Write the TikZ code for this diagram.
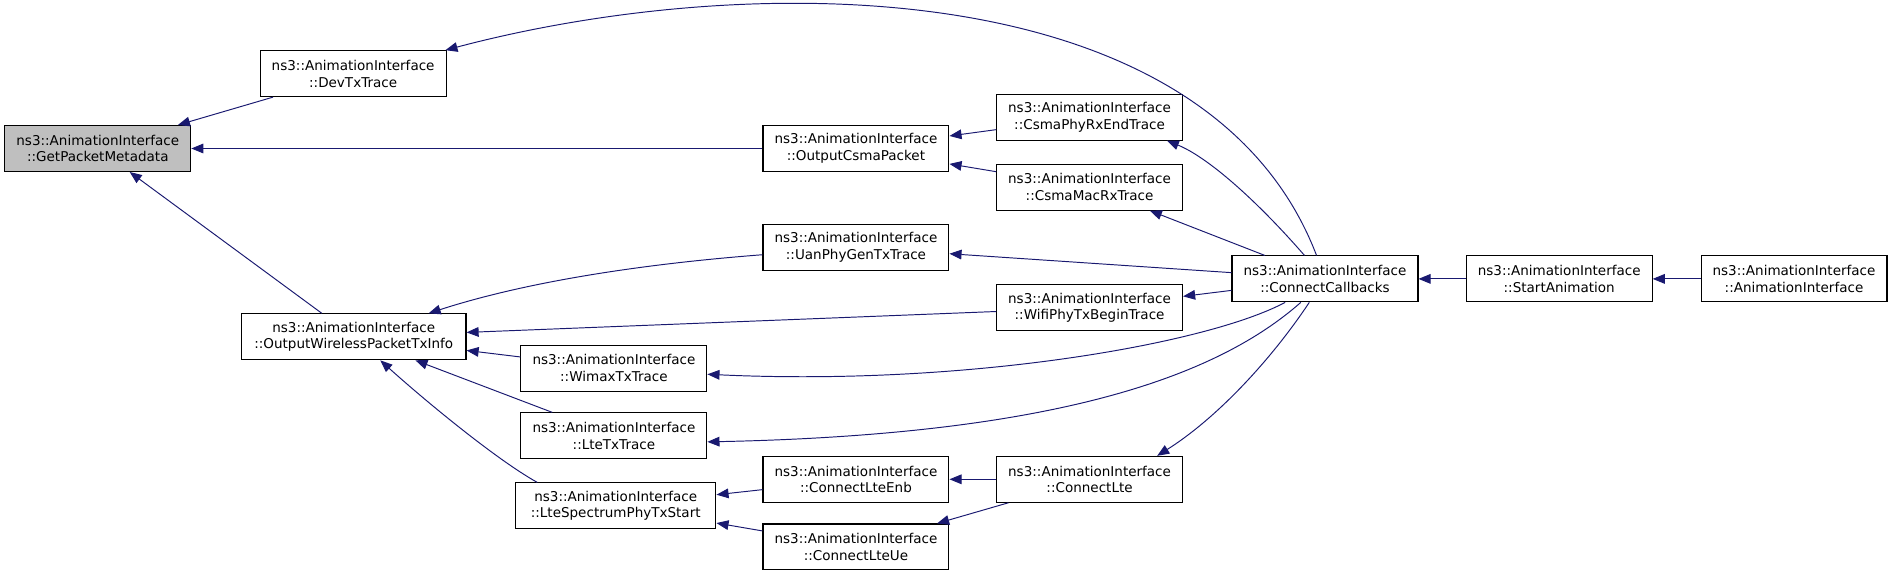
\documentclass[tikz,border=0pt]{standalone}
\usepackage{fontspec}
\setmainfont{DejaVu Sans}
\usetikzlibrary{arrows.meta,calc}
\definecolor{edgeblue}{HTML}{191970}
\definecolor{hlgray}{HTML}{BFBFBF}
\begin{document}
\begin{tikzpicture}[x=1pt,y=-1pt,
  fn/.style={draw=black, line width=0.9pt, fill=white, rectangle, minimum width=154pt, minimum height=38pt, inner sep=0pt, align=center, font=\fontsize{11.2}{13.8}\selectfont},
  callarrow/.style={draw=edgeblue, line width=0.8pt, -{Triangle[length=10pt,width=8pt]}, fill=none}
]
\path[use as bounding box] (0,0) rectangle (1568,477);

\node[fn, fill=hlgray] (gpm) at (81,123) {ns3::AnimationInterface\\::GetPacketMetadata};
\node[fn] (devtx) at (292.5,61) {ns3::AnimationInterface\\::DevTxTrace};
\node[fn] (ocp) at (709,123) {ns3::AnimationInterface\\::OutputCsmaPacket};
\node[fn] (cpre) at (902.5,97) {ns3::AnimationInterface\\::CsmaPhyRxEndTrace};
\node[fn] (cmrt) at (902.5,155) {ns3::AnimationInterface\\::CsmaMacRxTrace};
\node[fn] (uan) at (709,205) {ns3::AnimationInterface\\::UanPhyGenTxTrace};
\node[fn, minimum width=186pt] (owpti) at (293,279) {ns3::AnimationInterface\\::OutputWirelessPacketTxInfo};
\node[fn] (wifi) at (902.5,255) {ns3::AnimationInterface\\::WifiPhyTxBeginTrace};
\node[fn] (wimax) at (508.5,305) {ns3::AnimationInterface\\::WimaxTxTrace};
\node[fn] (ltetx) at (508.5,361) {ns3::AnimationInterface\\::LteTxTrace};
\node[fn, minimum width=166pt] (lspts) at (510,419) {ns3::AnimationInterface\\::LteSpectrumPhyTxStart};
\node[fn] (clenb) at (709,397) {ns3::AnimationInterface\\::ConnectLteEnb};
\node[fn] (clue) at (709,453) {ns3::AnimationInterface\\::ConnectLteUe};
\node[fn] (cl) at (902.5,397) {ns3::AnimationInterface\\::ConnectLte};
\node[fn] (cc) at (1097.5,231) {ns3::AnimationInterface\\::ConnectCallbacks};
\node[fn] (sa) at (1291.5,231) {ns3::AnimationInterface\\::StartAnimation};
\node[fn] (ai) at (1486,231) {ns3::AnimationInterface\\::AnimationInterface};

% straight edges
\draw[callarrow] (devtx) -- (gpm);
\draw[callarrow] (ocp) -- (gpm);
\draw[callarrow] (owpti) -- (gpm);
\draw[callarrow] (cpre) -- (ocp);
\draw[callarrow] (cmrt) -- (ocp);
\draw[callarrow] (cc) -- (cmrt);
\draw[callarrow] (cc) -- (uan);
\draw[callarrow] (wifi) -- (owpti);
\draw[callarrow] (cc) -- (wifi);
\draw[callarrow] (wimax) -- (owpti);
\draw[callarrow] (ltetx) -- (owpti);
\draw[callarrow] (clenb) -- (lspts);
\draw[callarrow] (clue) -- (lspts);
\draw[callarrow] (cl) -- (clenb);
\draw[callarrow] (cl) -- (clue);
\draw[callarrow] (sa) -- (cc);
\draw[callarrow] (ai) -- (sa);

% curved edges
\draw[callarrow] ($(cc.north)+(-7,0)$) .. controls (1000,-25) and (620,-25) .. ($(devtx.north east)+(-1,0)$);
\draw[callarrow] ($(cc.north)+(-17,0)$) .. controls (1040,165) and (1000,130) .. ($(cpre.south)+(64,0)$);
\draw[callarrow] ($(uan.west)+(0,6)$) .. controls (540,218) and (440,232) .. ($(owpti.north)+(62,0)$);
\draw[callarrow] ($(cc.south)+(-33,0)$) .. controls (1000,285) and (800,320) .. ($(wimax.east)+(0,5)$);
\draw[callarrow] ($(cc.south)+(-20,0)$) .. controls (1010,310) and (880,360) .. ($(ltetx.east)+(0,5)$);
\draw[callarrow] ($(cc.south)+(-13,0)$) .. controls (1055,295) and (1010,345) .. ($(cl.north)+(56,0)$);
\draw[callarrow] ($(lspts.north)+(-65,0)$) .. controls (410,380) and (350,330) .. ($(owpti.south)+(22,0)$);
\end{tikzpicture}
\end{document}
